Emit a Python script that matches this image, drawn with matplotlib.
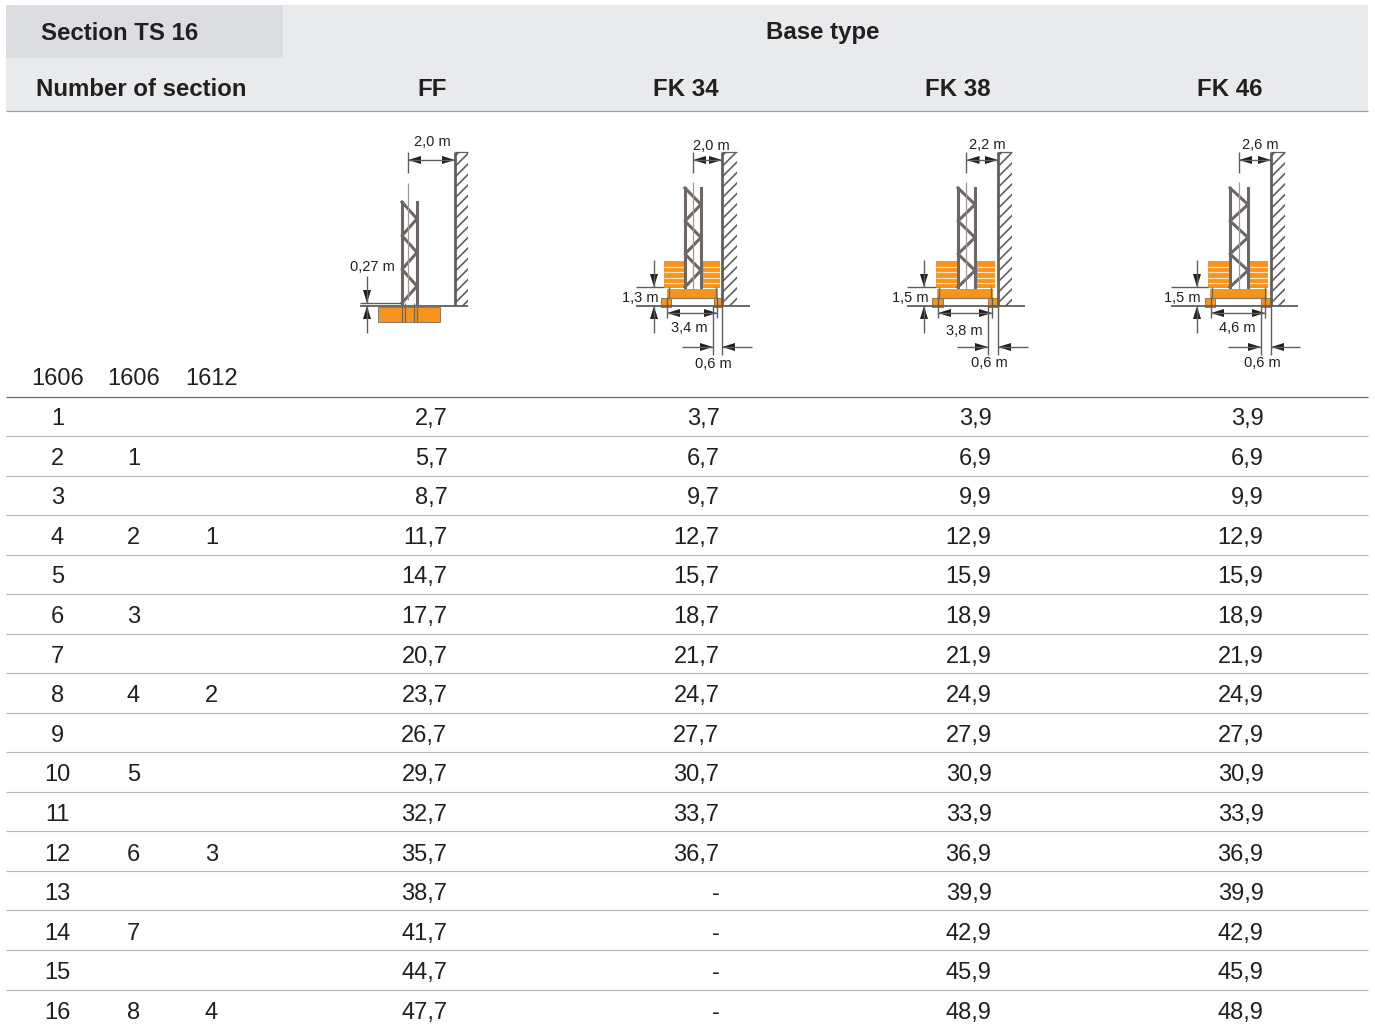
import numpy as np
import matplotlib.pyplot as plt
from matplotlib.patches import Rectangle, Polygon

plt.rcParams['font.family'] = ['Liberation Sans', 'DejaVu Sans']

sections_a = ['1', '2', '3', '4', '5', '6', '7', '8', '9', '10', '11', '12', '13', '14', '15', '16']
sections_b = ['', '1', '', '2', '', '3', '', '4', '', '5', '', '6', '', '7', '', '8']
sections_c = ['', '', '', '1', '', '', '', '2', '', '', '', '3', '', '', '', '4']
ff = ['2,7', '5,7', '8,7', '11,7', '14,7', '17,7', '20,7', '23,7', '26,7', '29,7', '32,7', '35,7', '38,7', '41,7', '44,7', '47,7']
fk34 = ['3,7', '6,7', '9,7', '12,7', '15,7', '18,7', '21,7', '24,7', '27,7', '30,7', '33,7', '36,7', '-', '-', '-', '-']
fk38 = ['3,9', '6,9', '9,9', '12,9', '15,9', '18,9', '21,9', '24,9', '27,9', '30,9', '33,9', '36,9', '39,9', '42,9', '45,9', '48,9']
fk46 = ['3,9', '6,9', '9,9', '12,9', '15,9', '18,9', '21,9', '24,9', '27,9', '30,9', '33,9', '36,9', '39,9', '42,9', '45,9', '48,9']
base_types = ['FF', 'FK 34', 'FK 38', 'FK 46']
section_types = ['1606', '1606', '1612']

TEXT = '#231f20'
GREY = '#5f5f60'
TOWER = '#6e6763'
ORANGE = '#f7941e'
LIGHT = '#e9eaec'
DARK = '#dcdde0'

fig = plt.figure(figsize=(13.75, 10.26), dpi=100)
ax = fig.add_axes([0, 0, 1, 1])
ax.set_xlim(0, 1375)
ax.set_ylim(1026, 0)
ax.axis('off')


def line(xs, ys, color=GREY, lw=1.0, **kw):
    ax.plot(xs, ys, color=color, lw=lw, solid_capstyle='butt', **kw)


def arrow_h(x, y, direction):
    # tip at x, direction +1 means pointing right
    ax.add_patch(Polygon([(x, y), (x - direction * 13, y - 4), (x - direction * 13, y + 4)], color='#231f20', lw=0))


def arrow_v(x, y, direction):
    ax.add_patch(Polygon([(x, y), (x - 4, y - direction * 13), (x + 4, y - direction * 13)], color='#231f20', lw=0))


def wall(x0, x1, top, ground, g0, g1):
    rect = Rectangle((x0, top), x1 - x0, ground - top, fc='none', ec='none')
    ax.add_patch(rect)
    for y in np.arange(top + 4, ground + 20, 10.5):
        l, = ax.plot([x0, x1], [y, y - (x1 - x0)], color=GREY, lw=1.2)
        l.set_clip_path(rect)
    line([x0, x0], [top, ground], lw=2.0)
    line([x0, x1], [top, top], lw=0.9)
    line([g0, g1], [ground, ground], lw=1.3)


def tower(xl, xr, top, bottom):
    cx = (xl + xr) / 2
    ax.plot([xl, xl], [top, bottom], color=TOWER, lw=2.2)
    ax.plot([xr, xr], [top, bottom], color=TOWER, lw=2.2)
    ys = np.linspace(top, bottom, 7)
    xs = [xl, xr, xl, xr, xl, xr, xl]
    ax.plot(xs, ys, color=TOWER, lw=2.2)
    return cx


def dim_top(cx, wx, y, label, lx, ly):
    line([cx, cx], [152, 173])
    line([cx, cx], [182, 290], color='#9a9a9a', lw=0.9)
    line([cx, wx], [y, y])
    arrow_h(cx, y, -1)
    arrow_h(wx, y, 1)
    ax.text(lx, ly + 1, label, ha='center', va='center', fontsize=10.5, color=TEXT)


def dim_vert(x, top, upper, ground, bottom, g0, g1, label, lx, ly):
    line([g0, g1], [upper, upper])
    line([x, x], [top, upper])
    line([x, x], [ground, bottom])
    arrow_v(x, upper, 1)
    arrow_v(x, ground, -1)
    ax.text(lx, ly + 1, label, ha='right', va='center', fontsize=10.5, color=TEXT)


def fk_base(wx, wx1, xl, xr, bl0, bl1, br0, br1, s0, s1, f0, f1, f2, g0, dx, gx1, w_label, h_label, hlx,
            d0, d1, b_label, blx, bly, o0, o1, a0, a1, o_label, olx, oly, top_lx, top_ly):
    wall(wx, wx1, 152, 306, g0, gx1)
    # ballast stacks
    ax.add_patch(Rectangle((bl0, 261), bl1 - bl0, 27, fc=ORANGE, ec='none'))
    ax.add_patch(Rectangle((br0, 261), br1 - br0, 27, fc=ORANGE, ec='none'))
    for y in [266.5, 272, 277.5, 283]:
        line([bl0, bl1], [y, y], color='#fde3c0', lw=0.9)
        line([br0, br1], [y, y], color='#fde3c0', lw=0.9)
    ax.add_patch(Rectangle((s0 - 1, 288.5), s1 - s0 + 2, 9, fc=ORANGE, ec='none'))
    ax.add_patch(Rectangle((f0, 297.5), f1 - f0 + 1, 9, fc=ORANGE, ec='#8a6a3a', lw=0.6))
    ax.add_patch(Rectangle((f2, 297.5), wx - f2, 9, fc=ORANGE, ec='#8a6a3a', lw=0.6))
    line([s0, s1], [298, 298], color='#8a7a68', lw=0.9)
    line([s0 + 1, s0 + 1], [287, 298], color=TOWER, lw=1.0)
    line([s1 - 1, s1 - 1], [287, 298], color=TOWER, lw=1.0)
    cx = tower(xl, xr, 188, 287)
    dim_top(cx, wx, 160, w_label, top_lx, top_ly)
    dim_vert(dx, 260, 287, 306, 333, g0, bl0, h_label, hlx, 297)
    # base width
    line([d0, d0], [297, 318])
    line([d1, d1], [297, 318])
    line([d0, d1], [313, 313])
    arrow_h(d0, 313, -1)
    arrow_h(d1, 313, 1)
    ax.text(blx, bly + 1, b_label, ha='center', va='center', fontsize=10.5, color=TEXT)
    # foot clearance
    line([o0, o0], [306, 355])
    line([o1, o1], [306, 355])
    line([a0, o0], [347, 347])
    line([o1, a1], [347, 347])
    arrow_h(o0, 347, 1)
    arrow_h(o1, 347, -1)
    ax.text(olx, oly + 1, o_label, ha='center', va='center', fontsize=10.5, color=TEXT)


# header
ax.add_patch(Rectangle((6, 5), 1362, 106, fc=LIGHT, ec='none'))
ax.add_patch(Rectangle((6, 5), 277, 53, fc=DARK, ec='none'))
line([6, 1368], [111, 111], color='#9a9c9f', lw=0.9)
line([6, 1368], [396.5, 396.5], color='#6a6b6d', lw=0.9)

ax.text(41, 33, 'Section TS 16', fontsize=17.3, fontweight='bold', va='center', color=TEXT)
ax.text(823, 33, 'Base type', fontsize=17.3, fontweight='bold', va='center', ha='center', color=TEXT)
ax.text(36, 90, 'Number of section', fontsize=17.3, fontweight='bold', va='center', color=TEXT)

col_right = [447.5, 719.5, 991.5, 1263.5]
for name, x in zip(base_types, col_right):
    ax.text(x - 0.5, 89, name, fontsize=17.3, fontweight='bold', va='center', ha='right', color=TEXT)

sec_x = [57.5, 133.5, 211.5]
for name, x in zip(section_types, sec_x):
    ax.text(x, 379, name, fontsize=17, va='center', ha='center', color=TEXT)

# rows
for i in range(len(sections_a)):
    y = 419 + i * 39.6
    if i < len(sections_a) - 1:
        rule_y = 436 + i * 39.54
        line([6, 1368], [rule_y, rule_y], color='#b5b6b8', lw=0.8)
    for vals, x in zip([sections_a, sections_b, sections_c], sec_x):
        ax.text(x, y, vals[i], fontsize=17, va='center', ha='center', color=TEXT)
    for vals, x in zip([ff, fk34, fk38, fk46], col_right):
        ax.text(x, y, vals[i], fontsize=17, va='center', ha='right', color=TEXT)

# FF sketch
wall(455, 468, 152, 306, 360, 468)
ax.add_patch(Rectangle((378, 307), 62, 15, fc=ORANGE, ec='#8a7a68', lw=0.7))
cx = tower(402, 417, 202, 303)
line([402, 402], [303, 322], color=TOWER, lw=0.9)
line([405, 405], [303, 322], color=TOWER, lw=0.9)
line([414, 414], [303, 322], color=TOWER, lw=0.9)
line([417, 417], [303, 322], color=TOWER, lw=0.9)
line([408, 408], [152, 173])
line([408, 408], [183, 300], color='#9a9a9a', lw=0.9)
line([408, 455], [160, 160])
arrow_h(408, 160, -1)
arrow_h(455, 160, 1)
ax.text(432, 142, '2,0 m', ha='center', va='center', fontsize=10.5, color=TEXT)
dim_vert(367, 276, 303, 306, 333, 360, 402, '0,27 m', 395, 266)

# FK sketches
fk_base(722, 737, 685, 701, 664, 684, 703, 720, 668, 717, 661, 670, 714, 636, 654, 750, '2,0 m', '1,3 m', 659,
        667, 717, '3,4 m', 689, 327, 713, 722, 682, 752, '0,6 m', 713, 363, 711, 145)
fk_base(998, 1012, 958, 975, 936, 957, 977, 995, 938, 992, 932, 942, 988, 907, 924, 1025, '2,2 m', '1,5 m', 929,
        938, 992, '3,8 m', 964, 330, 988, 998, 957, 1028, '0,6 m', 989, 362, 987, 144)
fk_base(1271, 1285, 1230, 1248, 1208, 1230, 1249, 1268, 1211, 1266, 1205, 1214, 1261, 1171, 1197, 1298, '2,6 m', '1,5 m', 1201,
        1211, 1265, '4,6 m', 1237, 327, 1261, 1271, 1228, 1300, '0,6 m', 1262, 362, 1260, 144)

fig.savefig('out.png', dpi=100)
